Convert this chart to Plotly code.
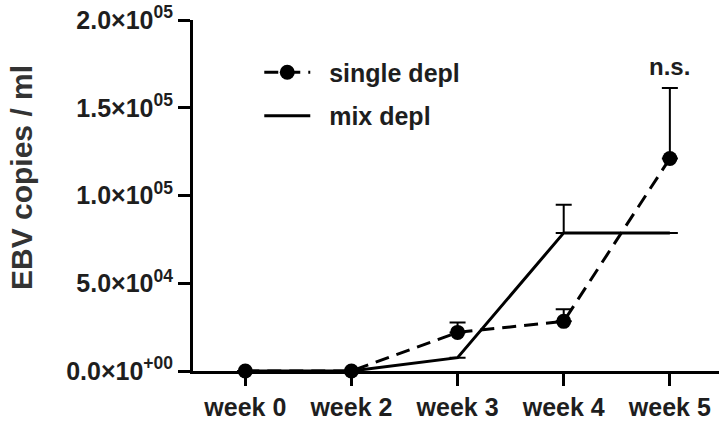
import plotly.graph_objects as go

weeks = ["week 0", "week 2", "week 3", "week 4", "week 5"]
single_vals = [0, 0, 22000, 28300, 121100]
single_err = [0, 0, 5700, 6900, 40200]
mix_vals = [0, 0, 7600, 78700, 78700]
mix_err = [0, 0, 0, 16100, 0]
ytick_vals = [0, 50000, 100000, 150000, 200000]
ytick_text = ["0.0×10<sup>+00</sup>", "5.0×10<sup>04</sup>", "1.0×10<sup>05</sup>",
              "1.5×10<sup>05</sup>", "2.0×10<sup>05</sup>"]

FONT = "Liberation Sans, Arial, sans-serif"
TXT = "#1e1e1e"
NB = "\u00a0\u00a0"

fig = go.Figure()
fig.add_trace(go.Scatter(
    x=weeks, y=single_vals, name=NB + "single depl", mode="lines+markers",
    line=dict(color="black", width=3, dash="14px,8px"),
    marker=dict(color="black", size=15),
    error_y=dict(type="data", symmetric=False, array=single_err,
                 arrayminus=[0] * len(single_err), color="black",
                 thickness=2, width=8),
    cliponaxis=False, legendgroup="a",
))
fig.add_trace(go.Scatter(
    x=weeks, y=mix_vals, name=NB + "mix depl", mode="lines",
    line=dict(color="black", width=3),
    error_y=dict(type="data", symmetric=False, array=mix_err,
                 arrayminus=[0] * len(mix_err), color="black",
                 thickness=2, width=8),
    cliponaxis=False, legendgroup="b",
))

fig.add_annotation(x="week 5", y=173400, text="n.s.", showarrow=False,
                   font=dict(family=FONT, size=24, color=TXT, weight="bold"),
                   yanchor="middle")
fig.add_annotation(xref="paper", yref="paper", x=-0.325, y=0.55,
                   text="EBV copies / ml", textangle=-90, showarrow=False,
                   font=dict(family=FONT, size=30, color="#333333", weight="bold"),
                   xanchor="center", yanchor="middle")

fig.update_layout(
    width=719, height=421,
    margin=dict(l=193, r=0, t=20, b=48),
    plot_bgcolor="white", paper_bgcolor="white",
    showlegend=True,
    legend=dict(x=0.126, y=0.916, xanchor="left", yanchor="top",
                font=dict(family=FONT, size=25, color=TXT, weight="bold"),
                itemwidth=46, tracegroupgap=8, bgcolor="rgba(0,0,0,0)"),
    xaxis=dict(type="category", categoryarray=weeks, range=[-0.4925, 4.463],
               showline=True, linewidth=3, linecolor="black",
               ticks="outside", ticklen=12, tickwidth=3, tickcolor="black",
               showgrid=False, zeroline=False,
               tickfont=dict(family=FONT, size=25, color=TXT, weight="bold")),
    yaxis=dict(range=[0, 200000], tickvals=ytick_vals, ticktext=ytick_text,
               showline=True, linewidth=3, linecolor="black",
               ticks="outside", ticklen=12, tickwidth=3, tickcolor="black",
               showgrid=False, zeroline=False,
               tickfont=dict(family=FONT, size=25, color=TXT, weight="bold")),
)

fig.write_html("out.html")
